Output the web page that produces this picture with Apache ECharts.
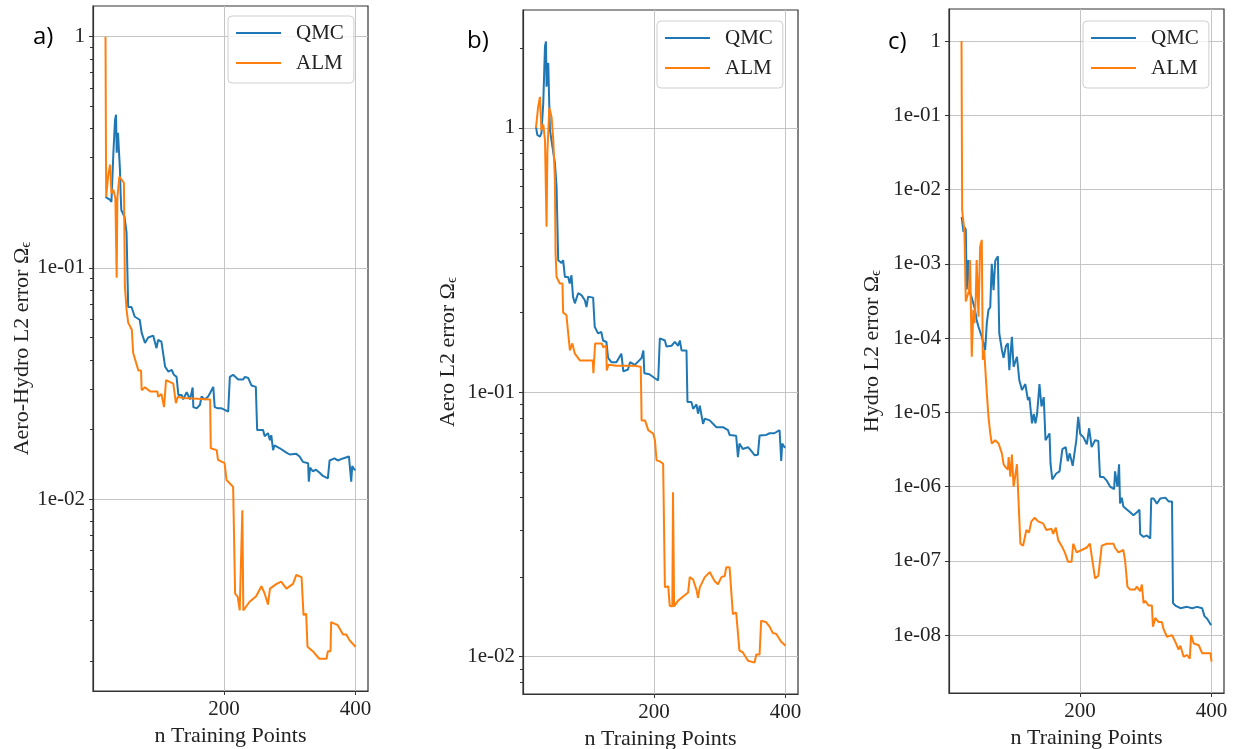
<!DOCTYPE html>
<html>
<head>
<meta charset="utf-8">
<script src="https://cdn.jsdelivr.net/npm/echarts@6/dist/echarts.min.js"></script>
<style>
html,body{margin:0;padding:0;background:#fff;}
#chart{width:1233px;height:749px;}
</style>
</head>
<body>
<div id="chart"></div>
<script>
// ---------- data (x = n training points, y = L2 error) ----------
const qmcA = [[20,0.203],[27,0.197],[29,0.193],[32,0.315],[34.5,0.437],[36,0.46],[37,0.315],[39,0.384],[42,0.265],[43,0.21],[44,0.178],[49,0.166],[52,0.142],[53.5,0.0906],[54.5,0.0678],[59.5,0.0678],[64.5,0.0615],[72,0.0597],[75,0.0524],[80,0.0474],[85,0.05],[92.5,0.051],[97.5,0.045],[100,0.0488],[105,0.048],[108,0.048],[110.6,0.0374],[115.6,0.0356],[120.7,0.0362],[124,0.0345],[128,0.0338],[130.8,0.0282],[135.9,0.0282],[138,0.027],[143.4,0.029],[148.5,0.027],[152.5,0.0304],[153.5,0.025],[158.6,0.0247],[163.6,0.0256],[166,0.0278],[171,0.027],[176,0.0278],[178.8,0.0287],[183.8,0.0306],[186,0.025],[191,0.0247],[196.5,0.0247],[199,0.0243],[206.5,0.0239],[209,0.0338],[214,0.0345],[221.7,0.0329],[229,0.0329],[232,0.0338],[237,0.0334],[239,0.0338],[242,0.031],[248.5,0.0306],[250.5,0.0199],[259.5,0.0199],[262,0.0187],[267,0.0193],[270,0.018],[272,0.0189],[274.7,0.0163],[277,0.0171],[285,0.0166],[295,0.0159],[300,0.0156],[310,0.0157],[315,0.0153],[320,0.0145],[328,0.0143],[329,0.0119],[331,0.0137],[335,0.0132],[340,0.0134],[345.5,0.013],[350.5,0.0126],[358,0.0123],[360.6,0.0147],[368,0.015],[373,0.0147],[381,0.015],[390,0.0153],[393.5,0.0119],[395,0.0139],[398.5,0.0134],[400,0.0134]];
const almA = [[20,1.0],[21,0.203],[24,0.25],[27,0.28],[29,0.21],[32,0.218],[35,0.2],[37,0.0906],[38,0.2],[41,0.248],[45,0.24],[48,0.233],[49.5,0.083],[52,0.066],[54.5,0.058],[60,0.054],[62,0.043],[70,0.036],[74,0.036],[75,0.0296],[80,0.0305],[88,0.0292],[99,0.0292],[100,0.0277],[105,0.0285],[108,0.0285],[109,0.025],[111,0.025],[112,0.0327],[123,0.0316],[126,0.0316],[127,0.026],[129,0.026],[130,0.0277],[138,0.0274],[160,0.0272],[179,0.027],[180,0.0166],[189,0.0163],[191,0.0148],[201,0.0143],[204,0.0121],[214,0.0113],[217,0.0039],[221,0.00378],[224,0.0033],[227,0.0033],[228,0.00896],[229.5,0.0033],[232,0.00327],[239,0.0036],[249,0.0038],[257,0.0042],[262,0.0039],[267,0.0035],[270,0.0041],[280,0.0043],[287,0.0044],[295,0.0041],[305,0.0043],[310,0.0047],[318,0.0046],[321,0.00315],[325,0.0032],[327,0.0023],[335,0.0022],[345,0.00204],[356,0.00204],[358,0.0022],[362,0.0022],[363,0.00294],[373,0.00285],[381,0.0026],[386,0.0026],[391,0.00245],[400,0.0023]];

const qmcB = [[20.7,1.01],[22.7,0.94],[26.8,0.927],[29,0.955],[31.8,1.24],[34.4,2.03],[35.9,2.12],[36.8,1.43],[39.4,1.76],[41,1.2],[42,0.98],[46,0.84],[49.5,0.735],[52,0.6],[54.5,0.316],[59.6,0.308],[62,0.316],[64.7,0.273],[69.7,0.273],[72,0.258],[74.7,0.277],[77,0.23],[79.8,0.217],[84.8,0.237],[89.9,0.233],[95,0.223],[97.5,0.21],[100,0.23],[107.6,0.228],[110,0.177],[115,0.167],[120,0.169],[122.7,0.157],[127.8,0.155],[130.3,0.135],[135.3,0.13],[143,0.13],[150.5,0.14],[153.5,0.12],[160.6,0.122],[163.6,0.13],[171,0.127],[177.8,0.132],[181.3,0.135],[184,0.144],[185.4,0.118],[193,0.117],[201.5,0.113],[206.5,0.111],[209,0.16],[216.7,0.157],[219,0.149],[226.8,0.15],[231.8,0.155],[236.8,0.15],[239.4,0.157],[242,0.144],[249.5,0.144],[251,0.0919],[257,0.0919],[259.6,0.0866],[264.7,0.09],[267,0.083],[269.7,0.089],[274.7,0.076],[277.3,0.0795],[284.8,0.0783],[295,0.0738],[305,0.0738],[312.6,0.0719],[315,0.069],[325,0.0685],[327.7,0.0569],[330,0.064],[335,0.061],[343,0.062],[348,0.06],[353,0.0578],[358,0.058],[360.6,0.0686],[370.7,0.069],[375.8,0.07],[383,0.07],[391,0.0719],[393.5,0.055],[395,0.064],[398.5,0.062],[400,0.062]];
const almB = [[20.7,1.0],[24,1.2],[26.8,1.31],[29,0.98],[31.8,1.03],[34.4,0.9],[36.8,0.423],[38,0.8],[41,1.19],[44.4,1.1],[47,0.9],[49.5,0.635],[50.5,0.335],[52,0.273],[57,0.258],[61,0.258],[62,0.2],[67,0.196],[69.7,0.167],[72.3,0.144],[76,0.153],[79.8,0.14],[87.4,0.132],[97.5,0.132],[103,0.132],[107,0.132],[108,0.118],[109.5,0.118],[110.6,0.153],[120.7,0.153],[123,0.148],[125.8,0.15],[127.5,0.15],[128.3,0.121],[130.8,0.127],[143.5,0.126],[153.5,0.126],[170,0.126],[180,0.125],[181.3,0.0783],[186.4,0.0783],[191.4,0.0719],[199,0.0697],[201.5,0.0659],[204,0.0553],[209,0.0548],[214,0.0537],[216.7,0.0183],[221.7,0.0185],[224,0.0156],[228,0.0155],[229,0.0419],[230.7,0.0155],[236.8,0.0163],[244.4,0.0169],[252,0.0175],[254.5,0.02],[259.6,0.0196],[264.7,0.0179],[267,0.0167],[269.7,0.0183],[277.3,0.02],[284.8,0.0209],[292.4,0.0193],[297.4,0.0188],[302.6,0.02],[307.6,0.0202],[310,0.0218],[315,0.0218],[320,0.0145],[325,0.0147],[330,0.01054],[335,0.0104],[343,0.00966],[353,0.0095],[355.6,0.0102],[360.6,0.0102],[363,0.0137],[370.7,0.0135],[375.8,0.013],[380.8,0.0123],[386,0.0122],[393.5,0.0114],[400,0.011]];

const qmcC = [[20.3,0.0043],[23,0.0027],[24.4,0.0031],[26.5,0.0029],[28,0.00045],[30.5,0.00112],[33,0.0004],[35.6,0.00035],[40.6,0.00024],[43,0.000175],[45.8,0.000142],[50.8,0.000104],[53.4,8.5e-5],[56,6.9e-5],[58.5,1.6e-4],[61,2.4e-4],[63.7,2.6e-4],[66,1.0e-3],[68.7,4.4e-4],[71.3,1.1e-3],[73.8,1.1e-3],[75.3,1.26e-3],[77.4,1.16e-4],[81.4,6.9e-5],[84,5.4e-5],[87.5,7.8e-5],[90.5,8.5e-5],[92.7,3.7e-5],[96.6,1.04e-4],[99.2,4.1e-5],[104.3,5.6e-5],[107.9,2.7e-5],[111.9,2.0e-5],[117,2.4e-5],[121,1.46e-5],[123.2,1.6e-5],[127.2,7.1e-6],[129.8,9.5e-6],[132.4,7.1e-6],[134.9,9.5e-6],[138.5,2.4e-5],[141.6,1.2e-5],[145,1.6e-5],[147.7,4.2e-6],[150.2,4.0e-6],[153.8,5.2e-6],[155.3,2.05e-6],[158,1.25e-6],[164,1.5e-6],[169,1.6e-6],[173.3,3.2e-6],[178.4,3.4e-6],[181.5,2.2e-6],[184.5,2.8e-6],[189,1.9e-6],[194.5,4.2e-6],[197.4,8.7e-6],[200.5,5.1e-6],[205.5,4.6e-6],[210.5,3.7e-6],[214,6.1e-6],[217.8,3.4e-6],[223,4.2e-6],[228,4.1e-6],[230.5,1.35e-6],[235.6,1.35e-6],[240.8,1.2e-6],[245.8,1.0e-6],[252,9.2e-7],[253.4,1.6e-6],[257,1.0e-6],[259.5,2.0e-6],[261,5.9e-7],[263.6,7.1e-7],[266,5.4e-7],[271.3,4.9e-7],[276.3,4.5e-7],[281.4,4.1e-7],[286.6,4.5e-7],[290.5,4.9e-7],[291.6,2.3e-7],[296.7,2.1e-7],[301.8,2.2e-7],[306.9,2.0e-7],[308.4,6.9e-7],[312,6.9e-7],[317,5.9e-7],[322.1,6.9e-7],[329.8,7.1e-7],[334.8,6.3e-7],[340,6.3e-7],[341.5,2.7e-8],[345,2.5e-8],[352.7,2.3e-8],[362.9,2.4e-8],[370.5,2.3e-8],[378.2,2.4e-8],[385.8,2.3e-8],[389.3,1.8e-8],[393.4,1.66e-8],[398.5,1.4e-8],[400,1.37e-8]];
const almC = [[20,1.0],[21,0.0053],[22,0.0043],[24.4,0.00285],[26.5,0.00031],[29.5,0.0003],[31.6,0.00044],[33,0.00112],[35.6,5.6e-5],[38,0.00024],[39.7,0.000159],[41.7,0.00036],[43,0.00112],[45.8,0.000194],[48.3,0.0017],[50.8,0.0021],[52.4,5.1e-5],[54.5,6.9e-5],[56,4.1e-5],[58.5,1.8e-5],[61,8.7e-6],[63.7,5.2e-6],[66,3.8e-6],[71.3,4.2e-6],[76.3,3.8e-6],[81.4,2.8e-6],[84,2.0e-6],[86.5,1.85e-6],[90.5,1.7e-6],[91.6,2.5e-6],[94.2,1.36e-6],[96.6,2.7e-6],[99.2,1.0e-6],[104.3,2.0e-6],[106.9,1.9e-6],[109.5,1.7e-7],[113.6,1.6e-7],[118.6,2.6e-7],[122.6,2.4e-7],[126.2,3.4e-7],[131.3,3.8e-7],[136.4,3.4e-7],[144,3.2e-7],[149,2.6e-7],[156.8,2.7e-7],[159.4,2.3e-7],[163.4,2.8e-7],[167,1.9e-7],[172,1.6e-7],[177,1.3e-7],[182,9.7e-8],[187.3,9.7e-8],[189.8,1.7e-7],[192.4,1.7e-7],[195,1.3e-7],[202.6,1.4e-7],[210,1.5e-7],[215.2,1.7e-7],[218,1.15e-7],[223,5.8e-8],[228,6.3e-8],[233.2,1.6e-7],[240.8,1.7e-7],[251,1.7e-7],[253.4,1.5e-7],[258.5,1.3e-7],[266,1.4e-7],[268.7,1.0e-7],[272.2,4.5e-8],[276.3,4.1e-8],[284,4.1e-8],[286.5,4.5e-8],[291.6,3.9e-8],[294.2,4.8e-8],[296.7,2.7e-8],[299.2,2.9e-8],[304.3,2.5e-8],[309.4,2.5e-8],[311,1.3e-8],[314.5,1.7e-8],[319.6,1.5e-8],[324.6,1.5e-8],[327.2,1.2e-8],[332.3,9.5e-9],[340,1.0e-8],[345,8.1e-9],[350,6.4e-9],[352.7,7.2e-9],[357.7,5.1e-9],[362.9,5.4e-9],[367,4.8e-9],[369,1.0e-8],[373,7.7e-9],[380.6,7.3e-9],[385.8,5.7e-9],[393.4,5.7e-9],[398.5,5.7e-9],[400,4.4e-9]];

// ticks
const xTicks = [200, 400];
const yTicksA = [1, 0.1, 0.01];
const yTicksB = [1, 0.1, 0.01];
const yTicksC = [1, 1e-1, 1e-2, 1e-3, 1e-4, 1e-5, 1e-6, 1e-7, 1e-8];
const minorA = [0.002,0.003,0.004,0.005,0.006,0.007,0.008,0.009,0.02,0.03,0.04,0.05,0.06,0.07,0.08,0.09,0.2,0.3,0.4,0.5,0.6,0.7,0.8,0.9];
const minorB = [0.008,0.009,0.02,0.03,0.04,0.05,0.06,0.07,0.08,0.09,0.2,0.3,0.4,0.5,0.6,0.7,0.8,0.9,2];
const seriesNames = ['QMC', 'ALM'];
const yNames = ['Aero-Hydro L2 error Ω{sub|ϵ}', 'Aero L2 error Ω{sub|ϵ}', 'Hydro L2 error Ω{sub|ϵ}'];
const xName = 'n Training Points';
const panelLabels = ['a)', 'b)', 'c)'];

// ---------- layout ----------
const SERIF = '"Liberation Serif", "DejaVu Serif", serif';
const TXT = '#222';
const C0 = '#1f77b4', C1 = '#ff7f0e';
const grids = [
  {left: 93, top: 6, width: 275, height: 685},
  {left: 523, top: 10, width: 275, height: 684},
  {left: 949, top: 9, width: 275, height: 684}
];
const yRanges = [[0.00148, 1.358], [0.00723, 2.79], [1.66e-9, 2.70]];
const yTicks = [yTicksA, yTicksB, yTicksC];
const yNameGaps = [56, 63, 65];
const legendPos = [{left: 228, top: 16}, {left: 657, top: 21}, {left: 1083, top: 21}];
const labelPos = [[33, 25], [467, 29], [888, 30]];

function fmtLog(v) {
  const e = Math.round(Math.log10(v));
  if (e === 0) return '1';
  const s = String(Math.abs(e)).padStart(2, '0');
  return '1e' + (e < 0 ? '-' : '+') + s;
}

const chart = echarts.init(document.getElementById('chart'), null, {renderer: 'canvas'});

const xAxis = grids.map((g, i) => ({
  type: 'value', gridIndex: i, min: 1, max: 419,
  name: xName, nameLocation: 'middle', nameGap: 29,
  nameTextStyle: {fontFamily: SERIF, fontSize: 22, color: TXT},
  axisLine: {show: true, lineStyle: {color: '#333', width: 1.2}},
  axisTick: {show: true, length: 4, lineStyle: {color: '#333'}, customValues: xTicks},
  axisLabel: {fontFamily: SERIF, fontSize: 21, color: TXT, margin: 8, customValues: xTicks},
  splitLine: {show: true, lineStyle: {color: '#c4c4c4', width: 1}}
}));

const yAxis = grids.map((g, i) => ({
  type: 'log', logBase: 10, gridIndex: i, position: 'left',
  min: yRanges[i][0], max: yRanges[i][1],
  name: yNames[i], nameLocation: 'middle', nameGap: yNameGaps[i], nameRotate: 90,
  nameTextStyle: {fontFamily: SERIF, fontSize: 22, color: TXT,
    rich: {sub: {fontFamily: SERIF, fontSize: 15, color: TXT, padding: [8, 0, 0, 0]}}},
  axisLine: {show: true, lineStyle: {color: '#333', width: 1.2}},
  axisTick: {show: true, length: 4, lineStyle: {color: '#333'}, customValues: yTicks[i]},
  axisLabel: {fontFamily: SERIF, fontSize: 21, color: TXT, margin: 8, customValues: yTicks[i], formatter: fmtLog},
  splitLine: {show: true, lineStyle: {color: '#c4c4c4', width: 1}}
}));
// minor-tick axes for panels a and b
[minorA, minorB].forEach((m, i) => {
  yAxis.push({
    type: 'log', logBase: 10, gridIndex: i, position: 'left',
    min: yRanges[i][0], max: yRanges[i][1],
    axisLine: {show: false},
    axisTick: {show: true, length: 3, lineStyle: {color: '#333', width: 1}, customValues: m},
    axisLabel: {show: false},
    splitLine: {show: false}
  });
});

const datasets = [[qmcA, almA], [qmcB, almB], [qmcC, almC]];
const series = [];
datasets.forEach((pair, i) => {
  pair.forEach((d, k) => {
    series.push({
      type: 'line', name: seriesNames[k], xAxisIndex: i, yAxisIndex: i,
      data: d, showSymbol: false, symbol: 'none', animation: false,
      color: k === 0 ? C0 : C1,
      lineStyle: {width: 2, color: k === 0 ? C0 : C1}
    });
  });
});

const legend = legendPos.map((p, i) => ({
  data: seriesNames, orient: 'vertical', left: p.left, top: p.top,
  icon: 'rect', itemWidth: 45, itemHeight: 2, itemGap: 8,
  padding: [6, 10, 9, 8],
  backgroundColor: 'rgba(255,255,255,0.8)', borderColor: '#cfcfcf', borderWidth: 1, borderRadius: 4,
  textStyle: {fontFamily: SERIF, fontSize: 21, color: TXT, lineHeight: 22, padding: [0, 0, 0, 10]},
  selectedMode: false
}));

const graphic = panelLabels.map((t, i) => ({
  type: 'text', left: labelPos[i][0], top: labelPos[i][1], z: 100,
  style: {text: t, fontFamily: '"Open Sans", "Noto Sans", sans-serif', fontSize: 24, fill: '#000'}
}));

chart.setOption({
  animation: false,
  backgroundColor: '#fff',
  grid: grids.map(g => Object.assign({show: true, borderColor: '#333', borderWidth: 1.2, backgroundColor: 'transparent', containLabel: false, outerBoundsMode: 'none'}, g)),
  xAxis: xAxis,
  yAxis: yAxis,
  legend: legend,
  series: series,
  graphic: graphic
});
</script>
</body>
</html>
